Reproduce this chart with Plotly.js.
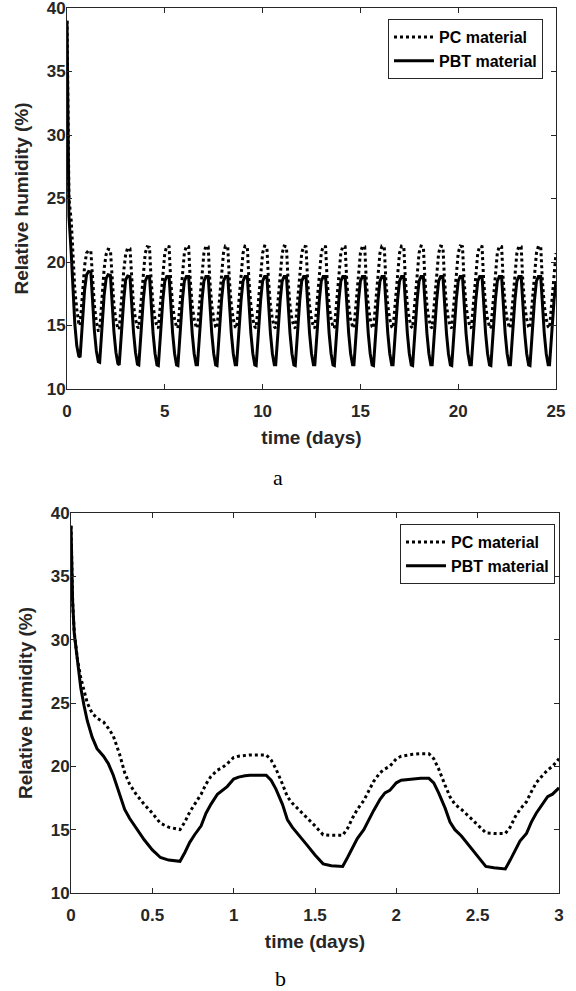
<!DOCTYPE html>
<html>
<head>
<meta charset="utf-8">
<script src="https://cdn.plot.ly/plotly-3.0.1.min.js"></script>
<style>
html,body{margin:0;padding:0;background:#fff;}
#chart{width:576px;height:991px;}
</style>
</head>
<body>
<div id="chart"></div>
<script>
// ---------- Panel b (0–3 days) ----------
const bottomTime = [0, 0.01, 0.02, 0.04, 0.06, 0.08, 0.1, 0.13, 0.16, 0.2, 0.23, 0.26, 0.3, 0.33, 0.36, 0.4, 0.45, 0.5, 0.55, 0.6, 0.67,
  0.7, 0.73, 0.76, 0.8, 0.83, 0.86, 0.9, 0.93, 0.96, 1.0, 1.03, 1.07, 1.1, 1.15, 1.2, 1.23, 1.26, 1.3, 1.33, 1.36, 1.4, 1.45, 1.5, 1.55, 1.6, 1.67,
  1.7, 1.73, 1.76, 1.8, 1.83, 1.86, 1.9, 1.93, 1.96, 2.0, 2.03, 2.07, 2.1, 2.15, 2.2, 2.23, 2.26, 2.3, 2.33, 2.36, 2.4, 2.45, 2.5, 2.55, 2.6, 2.67,
  2.7, 2.73, 2.76, 2.8, 2.83, 2.86, 2.9, 2.93, 2.96, 3.0];
const bottomPC = [39, 33, 30.6, 28.4, 27.0, 25.9, 25.0, 24.2, 23.8, 23.5, 23.0, 22.4, 20.9, 19.5, 18.6, 17.8, 17.0, 16.3, 15.5, 15.2, 15.0,
  15.6, 16.4, 17.0, 17.8, 18.6, 19.2, 19.7, 19.9, 20.2, 20.7, 20.8, 20.85, 20.9, 20.9, 20.9, 20.5, 19.8, 18.6, 17.6, 17.1, 16.6, 16.0, 15.3, 14.6, 14.55, 14.55,
  15.1, 15.9, 16.6, 17.3, 18.1, 18.8, 19.5, 19.8, 20.0, 20.6, 20.8, 20.9, 20.95, 21.0, 21.0, 20.6, 19.8, 18.5, 17.6, 17.0, 16.6, 16.0, 15.4, 14.75, 14.7, 14.7,
  15.2, 16.0, 16.6, 17.2, 18.0, 18.7, 19.3, 19.7, 20.0, 20.6];
const bottomPBT = [39, 33, 30.5, 28.1, 26.2, 24.8, 23.6, 22.3, 21.4, 20.8, 20.2, 19.3, 17.8, 16.6, 15.9, 15.1, 14.2, 13.4, 12.8, 12.6, 12.5,
  13.2, 14.0, 14.6, 15.3, 16.3, 17.0, 17.8, 18.1, 18.4, 19.0, 19.15, 19.25, 19.3, 19.3, 19.3, 18.9, 18.2, 17.0, 15.8, 15.2, 14.6, 13.8, 13.0, 12.3, 12.15, 12.1,
  12.8, 13.6, 14.3, 15.0, 15.8, 16.5, 17.4, 17.9, 18.1, 18.7, 18.9, 18.95, 19.0, 19.05, 19.05, 18.7, 17.9, 16.7, 15.6, 15.0, 14.5, 13.7, 12.9, 12.1, 12.0, 11.9,
  12.6, 13.4, 14.1, 14.7, 15.6, 16.3, 17.0, 17.6, 17.8, 18.3];

// ---------- Panel a (0–25 days) ----------
const topPhase = [0, 0.1, 0.22, 0.3, 0.4, 0.5, 0.6, 0.67, 0.74, 0.82, 0.9];
const topPCByDay = [
  [39, 25.0, 23.2, 20.9, 17.8, 16.3, 15.2, 15.0, 16.6, 18.3, 19.7],
  [20.7, 20.9, 20.85, 18.6, 16.6, 15.3, 14.6, 14.6, 16.2, 17.7, 19.5],
  [20.6, 21.0, 20.95, 18.5, 16.6, 15.4, 14.8, 14.7, 16.2, 17.6, 19.3],
  [20.6, 21.1, 21.05, 18.6, 16.6, 15.5, 14.9, 14.8, 16.2, 17.7, 19.4],
  [20.7, 21.2, 21.15, 18.6, 16.6, 15.5, 14.9, 14.8, 16.2, 17.7, 19.4],
  [20.7, 21.25, 21.2, 18.6, 16.6, 15.5, 14.9, 14.8, 16.2, 17.7, 19.4],
  [20.7, 21.25, 21.2, 18.6, 16.6, 15.5, 14.9, 14.8, 16.2, 17.7, 19.4],
  [20.7, 21.25, 21.2, 18.6, 16.6, 15.5, 14.9, 14.8, 16.2, 17.7, 19.4],
  [20.7, 21.25, 21.2, 18.6, 16.6, 15.5, 14.9, 14.8, 16.2, 17.7, 19.4],
  [20.7, 21.25, 21.2, 18.6, 16.6, 15.5, 14.9, 14.8, 16.2, 17.7, 19.4],
  [20.7, 21.25, 21.2, 18.6, 16.6, 15.5, 14.9, 14.8, 16.2, 17.7, 19.4],
  [20.7, 21.25, 21.2, 18.6, 16.6, 15.5, 14.9, 14.8, 16.2, 17.7, 19.4],
  [20.7, 21.25, 21.2, 18.6, 16.6, 15.5, 14.9, 14.8, 16.2, 17.7, 19.4],
  [20.7, 21.25, 21.2, 18.6, 16.6, 15.5, 14.9, 14.8, 16.2, 17.7, 19.4],
  [20.7, 21.25, 21.2, 18.6, 16.6, 15.5, 14.9, 14.8, 16.2, 17.7, 19.4],
  [20.7, 21.25, 21.2, 18.6, 16.6, 15.5, 14.9, 14.8, 16.2, 17.7, 19.4],
  [20.7, 21.25, 21.2, 18.6, 16.6, 15.5, 14.9, 14.8, 16.2, 17.7, 19.4],
  [20.7, 21.25, 21.2, 18.6, 16.6, 15.5, 14.9, 14.8, 16.2, 17.7, 19.4],
  [20.7, 21.25, 21.2, 18.6, 16.6, 15.5, 14.9, 14.8, 16.2, 17.7, 19.4],
  [20.7, 21.25, 21.2, 18.6, 16.6, 15.5, 14.9, 14.8, 16.2, 17.7, 19.4],
  [20.7, 21.25, 21.2, 18.6, 16.6, 15.5, 14.9, 14.8, 16.2, 17.7, 19.4],
  [20.7, 21.25, 21.2, 18.6, 16.6, 15.5, 14.9, 14.8, 16.2, 17.7, 19.4],
  [20.7, 21.25, 21.2, 18.6, 16.6, 15.5, 14.9, 14.8, 16.2, 17.7, 19.4],
  [20.7, 21.25, 21.2, 18.6, 16.6, 15.5, 14.9, 14.8, 16.2, 17.7, 19.4],
  [20.7, 21.25, 21.2, 18.6, 16.6, 15.5, 14.9, 14.8, 16.2, 17.7, 19.4]
];
const topPBTByDay = [
  [39, 23.6, 20.6, 17.8, 15.1, 13.4, 12.6, 12.5, 14.0, 15.6, 17.8],
  [19.0, 19.25, 19.2, 17.0, 14.6, 13.0, 12.15, 12.1, 13.8, 15.4, 17.4],
  [18.7, 19.0, 18.95, 16.7, 14.5, 12.9, 12.0, 11.9, 13.6, 15.2, 17.0],
  [18.6, 18.9, 18.85, 16.7, 14.5, 12.9, 11.95, 11.9, 13.6, 15.3, 17.0],
  [18.5, 18.85, 18.85, 16.7, 14.4, 12.8, 11.9, 11.85, 13.6, 15.3, 17.0],
  [18.5, 18.85, 18.85, 16.7, 14.4, 12.8, 11.9, 11.85, 13.6, 15.3, 17.0],
  [18.5, 18.85, 18.85, 16.7, 14.4, 12.8, 11.9, 11.9, 13.6, 15.3, 17.0],
  [18.5, 18.85, 18.85, 16.7, 14.4, 12.8, 11.9, 11.85, 13.6, 15.3, 17.0],
  [18.5, 18.85, 18.85, 16.7, 14.4, 12.8, 11.9, 11.9, 13.6, 15.3, 17.0],
  [18.5, 18.85, 18.85, 16.7, 14.4, 12.8, 11.9, 11.85, 13.6, 15.3, 17.0],
  [18.5, 18.85, 18.85, 16.7, 14.4, 12.8, 11.9, 11.9, 13.6, 15.3, 17.0],
  [18.5, 18.85, 18.85, 16.7, 14.4, 12.8, 11.9, 11.85, 13.6, 15.3, 17.0],
  [18.5, 18.85, 18.85, 16.7, 14.4, 12.8, 11.9, 11.9, 13.6, 15.3, 17.0],
  [18.5, 18.85, 18.85, 16.7, 14.4, 12.8, 11.9, 11.85, 13.6, 15.3, 17.0],
  [18.5, 18.85, 18.85, 16.7, 14.4, 12.8, 11.9, 11.9, 13.6, 15.3, 17.0],
  [18.5, 18.85, 18.85, 16.7, 14.4, 12.8, 11.9, 11.85, 13.6, 15.3, 17.0],
  [18.5, 18.85, 18.85, 16.7, 14.4, 12.8, 11.9, 11.9, 13.6, 15.3, 17.0],
  [18.5, 18.85, 18.85, 16.7, 14.4, 12.8, 11.9, 11.85, 13.6, 15.3, 17.0],
  [18.5, 18.85, 18.85, 16.7, 14.4, 12.8, 11.9, 11.9, 13.6, 15.3, 17.0],
  [18.5, 18.85, 18.85, 16.7, 14.4, 12.8, 11.9, 11.85, 13.6, 15.3, 17.0],
  [18.5, 18.85, 18.85, 16.7, 14.4, 12.8, 11.9, 11.9, 13.6, 15.3, 17.0],
  [18.5, 18.85, 18.85, 16.7, 14.4, 12.8, 11.9, 11.85, 13.6, 15.3, 17.0],
  [18.5, 18.85, 18.85, 16.7, 14.4, 12.8, 11.9, 11.9, 13.6, 15.3, 17.0],
  [18.5, 18.85, 18.85, 16.7, 14.4, 12.8, 11.9, 11.85, 13.6, 15.3, 17.0],
  [18.5, 18.85, 18.85, 16.7, 14.4, 12.8, 11.9, 11.9, 13.6, 15.3, 17.0]
];
const topEndTime = 25;
const topEndPC = 20.7;
const topEndPBT = 18.5;

const seriesNames = ['PC material', 'PBT material'];
const xTitle = 'time (days)';
const yTitle = 'Relative humidity (%)';
const panelLabels = ['a', 'b'];

// assemble panel a from the per-day readings
const topTime = [], topPC = [], topPBT = [];
topPCByDay.forEach((row, d) => {
  row.forEach((v, i) => { topTime.push(d + topPhase[i]); topPC.push(v); topPBT.push(topPBTByDay[d][i]); });
});
topTime.push(topEndTime); topPC.push(topEndPC); topPBT.push(topEndPBT);

const ink = '#262626';
const sans = 'Liberation Sans, Arial, sans-serif';
const dotted = {color: '#000', width: 3, dash: '3px,3px'};
const solid = {color: '#000', width: 3};

const traces = [
  {x: topTime, y: topPC, name: seriesNames[0], mode: 'lines', line: dotted, xaxis: 'x', yaxis: 'y', legend: 'legend'},
  {x: topTime, y: topPBT, name: seriesNames[1], mode: 'lines', line: solid, xaxis: 'x', yaxis: 'y', legend: 'legend'},
  {x: bottomTime, y: bottomPC, name: seriesNames[0], mode: 'lines', line: dotted, xaxis: 'x2', yaxis: 'y2', legend: 'legend2'},
  {x: bottomTime, y: bottomPBT, name: seriesNames[1], mode: 'lines', line: solid, xaxis: 'x2', yaxis: 'y2', legend: 'legend2'}
];

const tickFont = {family: sans, size: 17, color: ink, weight: 'bold'};
const titleFont = {family: sans, size: 19, color: ink, weight: 'bold'};
function ax(extra) {
  return Object.assign({
    showline: true, linecolor: ink, linewidth: 1, mirror: 'ticks',
    ticks: 'inside', ticklen: 5, tickcolor: ink, tickwidth: 1,
    showgrid: false, zeroline: false, tickfont: tickFont, automargin: false,
    ticklabeloverflow: 'allow'
  }, extra);
}
const H = 991, W = 576;
const legendStyle = {
  bgcolor: '#fff', bordercolor: ink, borderwidth: 1,
  font: {family: sans, size: 16, color: '#000', weight: 'bold'},
  xanchor: 'right', yanchor: 'top', itemwidth: 40, tracegroupgap: 0
};

const layout = {
  width: W, height: H,
  margin: {l: 0, r: 0, t: 0, b: 0},
  paper_bgcolor: '#fff', plot_bgcolor: '#fff',
  showlegend: true,
  xaxis: ax({domain: [67 / W, 556 / W], range: [0, 25], tick0: 0, dtick: 5, anchor: 'y', ticklabelstandoff: 7,
    title: {text: xTitle, font: titleFont, standoff: 10}}),
  yaxis: ax({domain: [1 - 389 / H, 1 - 8 / H], range: [10, 40], tick0: 10, dtick: 5, anchor: 'x', ticklabelstandoff: -3,
    title: {text: yTitle, font: titleFont, standoff: 13}}),
  xaxis2: ax({domain: [71 / W, 559 / W], range: [0, 3], tick0: 0, dtick: 0.5, anchor: 'y2', ticklabelstandoff: 7,
    title: {text: xTitle, font: titleFont, standoff: 10}}),
  yaxis2: ax({domain: [1 - 893 / H, 1 - 513 / H], range: [10, 40], tick0: 10, dtick: 5, anchor: 'x2', ticklabelstandoff: -3,
    title: {text: yTitle, font: titleFont, standoff: 13}}),
  legend: Object.assign({}, legendStyle, {x: 543 / W, y: 1 - 19 / H}),
  legend2: Object.assign({}, legendStyle, {x: 555 / W, y: 1 - 524 / H}),
  annotations: [
    {text: panelLabels[0], xref: 'paper', yref: 'paper', x: 278 / W, y: 1 - 478 / H, showarrow: false,
      xanchor: 'center', yanchor: 'middle',
      font: {family: 'Liberation Serif, Times New Roman, serif', size: 22, color: '#000'}},
    {text: panelLabels[1], xref: 'paper', yref: 'paper', x: 280 / W, y: 1 - 978 / H, showarrow: false,
      xanchor: 'center', yanchor: 'middle',
      font: {family: 'Liberation Serif, Times New Roman, serif', size: 22, color: '#000'}}
  ]
};

Plotly.newPlot('chart', traces, layout, {displayModeBar: false, staticPlot: true});
</script>
</body>
</html>
